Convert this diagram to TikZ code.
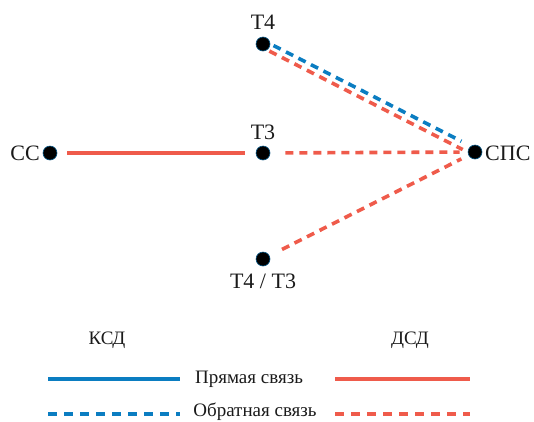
\documentclass[tikz,border=0pt]{standalone}
\usepackage{fontspec}
\setmainfont{Liberation Serif}
\definecolor{ksd}{HTML}{0B7DC1}
\definecolor{dsd}{HTML}{EF5B4B}
\definecolor{txt}{HTML}{1A1A1A}
\begin{document}
\begin{tikzpicture}[x=1pt,y=-1pt,
  dot/.style={circle,fill=black,draw=ksd!70!black,line width=0.6pt,inner sep=0pt,minimum size=14pt},
  lbl/.style={text=txt,font=\fontsize{22}{24}\selectfont,inner sep=0pt},
  leg/.style={text=txt,font=\fontsize{19}{21}\selectfont,inner sep=0pt},
  solidline/.style={line width=3.6pt},
  dashline/.style={line width=3.6pt,dash pattern=on 8pt off 6pt}]
\useasboundingbox (0,0) rectangle (534,421);
\node[dot] (cc) at (50,153) {};
\node[dot] (t3) at (263,153) {};
\node[dot] (t4) at (263,44) {};
\node[dot] (t43) at (263,259) {};
\node[dot] (sps) at (475,152) {};
\node[lbl,anchor=east] (lcc) at (40,153) {СС};
\node[lbl] (lt3) at (263,132) {Т3};
\node[lbl] (lt4) at (263,22) {Т4};
\node[lbl] (lt43) at (263,281) {Т4 / Т3};
\node[lbl,anchor=west] (lsps) at (485,153) {СПС};
\draw[dsd,solidline,shorten <=10pt,shorten >=11pt] (cc) -- (t3);
\draw[dsd,dashline,shorten <=15pt,shorten >=8pt] (t3) -- (sps);
\draw[ksd,dashline,shorten <=10pt,shorten >=17pt] ([shift={(1.6,-3)}]t4.center) -- ([shift={(1.6,-3)}]sps.center);
\draw[dsd,dashline,shorten <=9pt,shorten >=12pt] ([shift={(-1.6,3)}]t4.center) -- ([shift={(-1.6,3)}]sps.center);
\draw[dsd,dashline,shorten <=14pt,shorten >=8pt] (t43) -- (sps);
% legend
\node[leg] (ksdl) at (107,340) {КСД};
\node[leg] (dsdl) at (410,340) {ДСД};
\node[leg] (pr) at (249,379) {Прямая связь};
\node[leg] (ob) at (255,412) {Обратная связь};
\coordinate (a1) at (48,379); \coordinate (a2) at (180,379);
\coordinate (b1) at (335,379); \coordinate (b2) at (470,379);
\coordinate (c1) at (48,414); \coordinate (c2) at (180,414);
\coordinate (d1) at (335,414); \coordinate (d2) at (470,414);
\draw[ksd,solidline] (a1) -- (a2);
\draw[dsd,solidline] (b1) -- (b2);
\draw[ksd,line width=3.6pt,dash pattern=on 9pt off 7pt] (c1) -- (c2);
\draw[dsd,line width=3.6pt,dash pattern=on 9pt off 7pt] (d1) -- (d2);
\end{tikzpicture}
\end{document}
